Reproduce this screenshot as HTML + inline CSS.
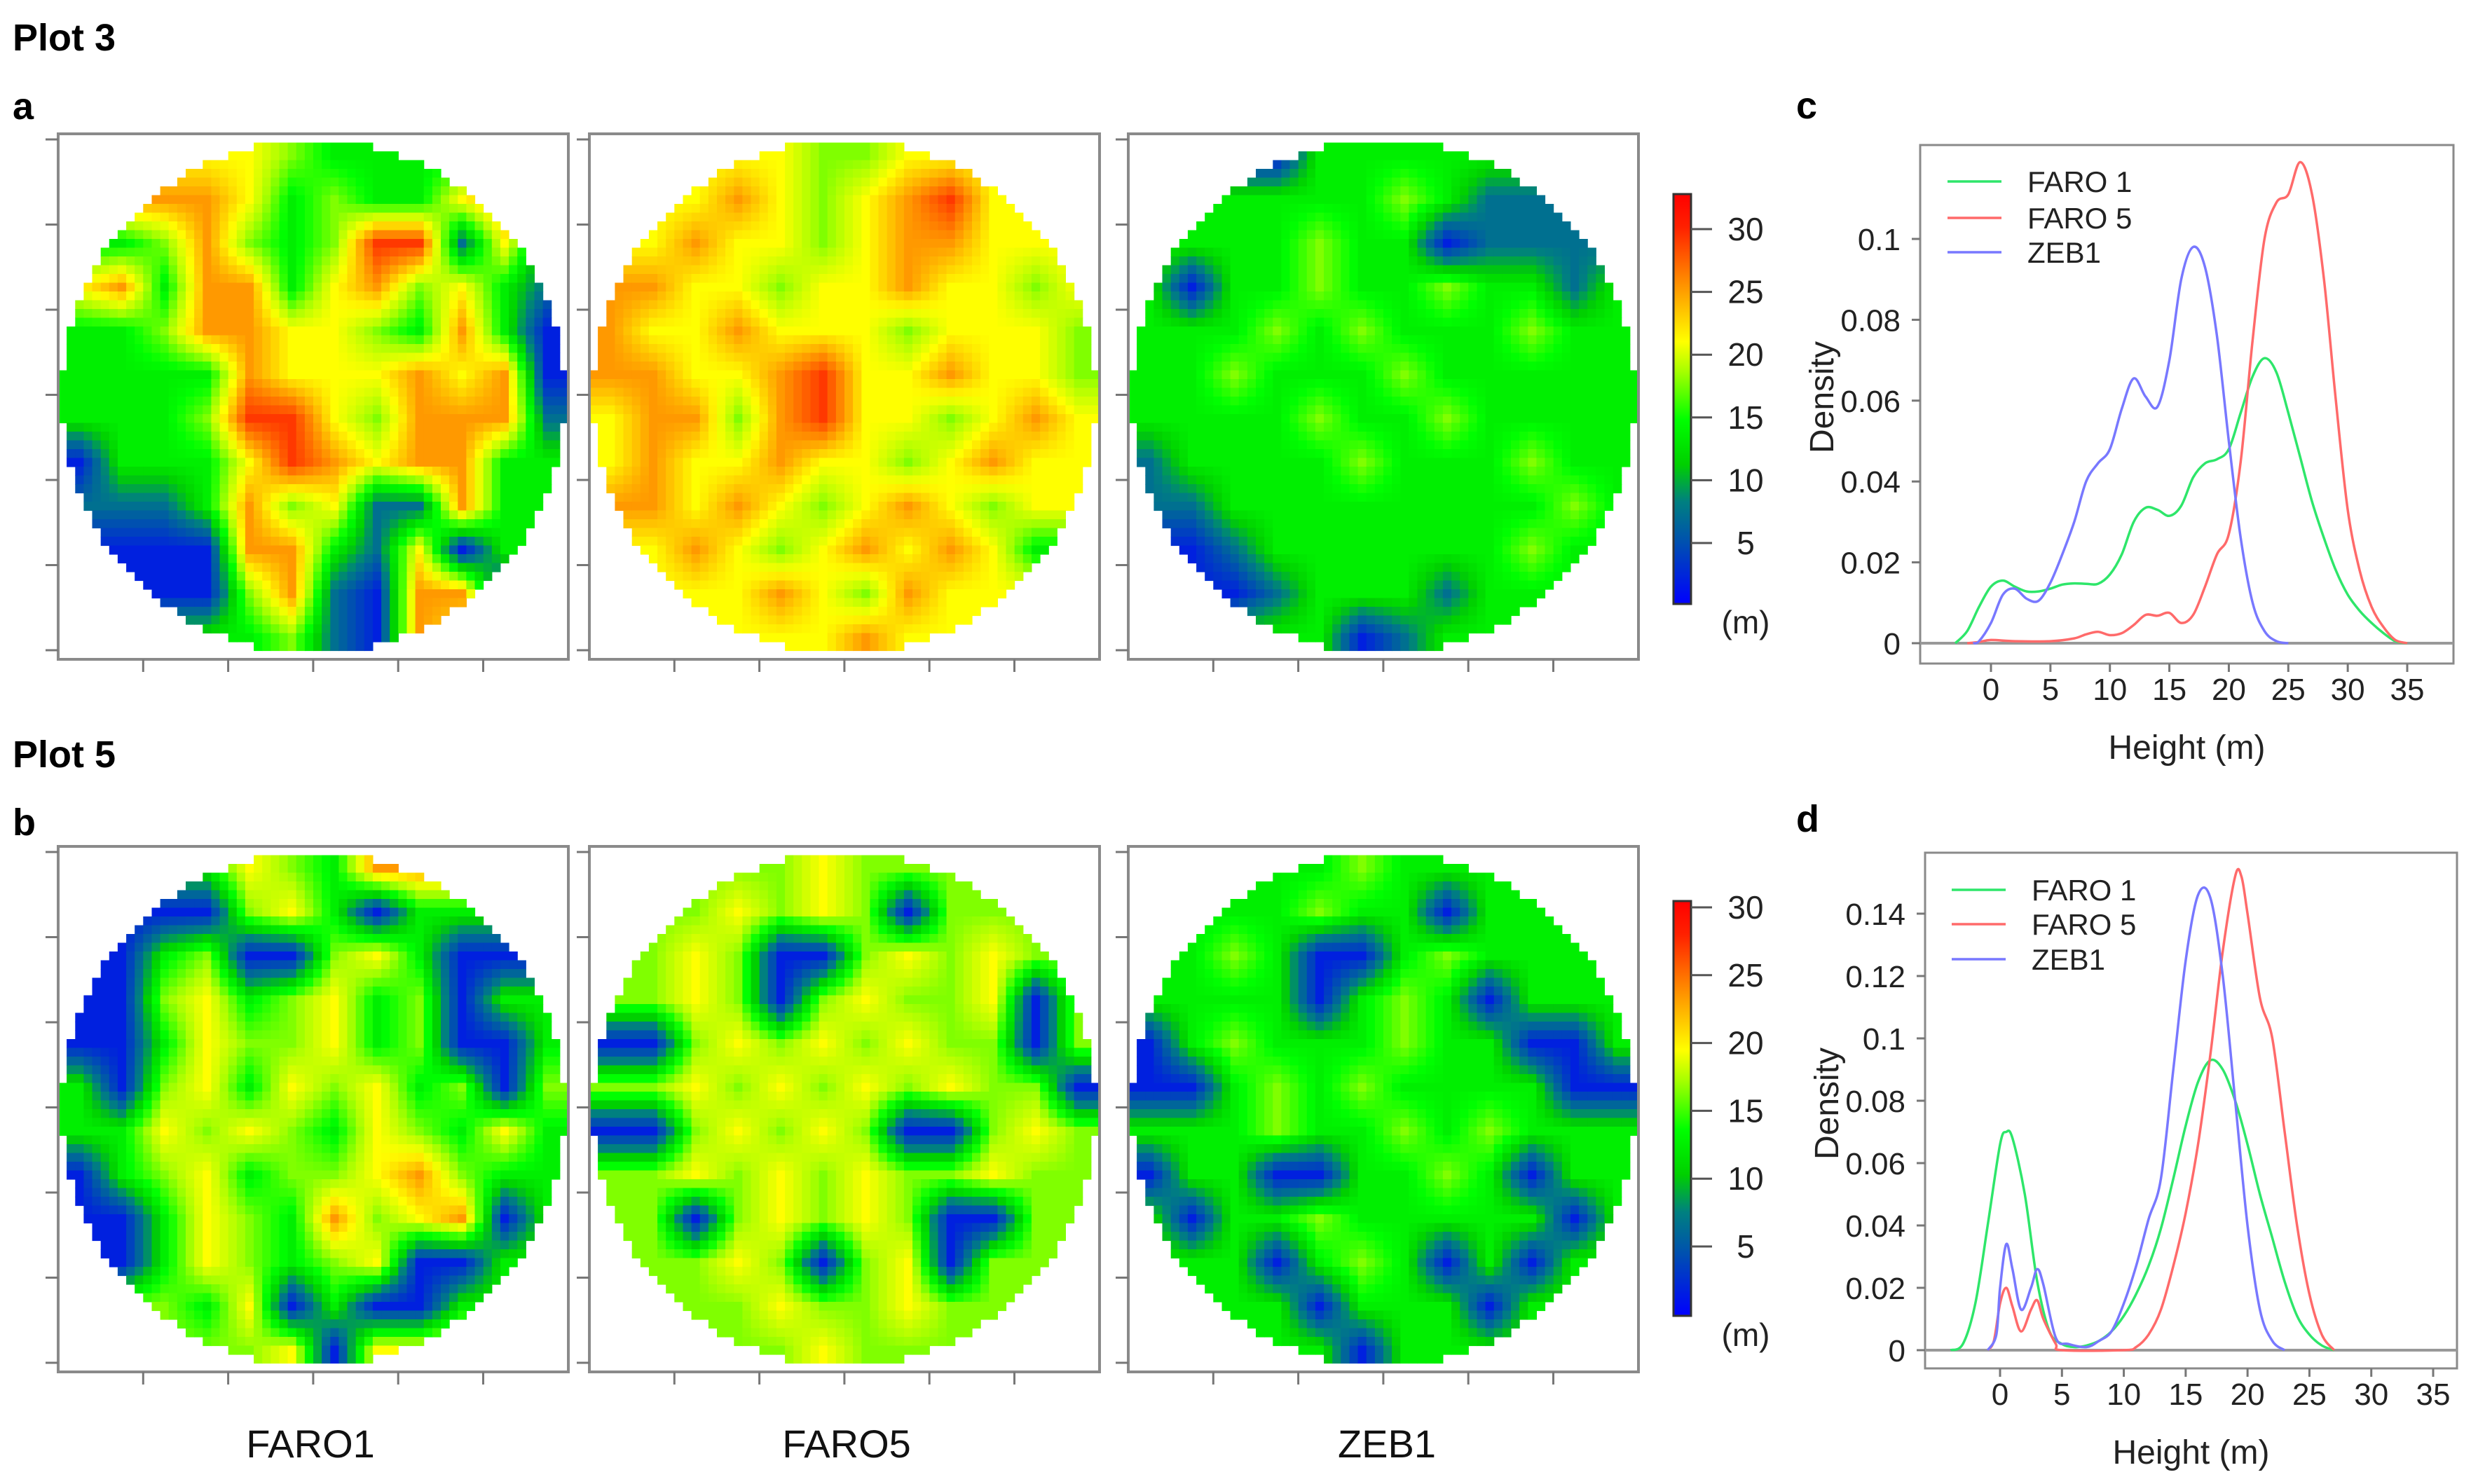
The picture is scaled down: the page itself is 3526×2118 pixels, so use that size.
<!DOCTYPE html>
<html><head><meta charset="utf-8"><style>
html,body{margin:0;padding:0;background:#fff;}
svg{display:block;font-family:"Liberation Sans",Arial,sans-serif;}
</style></head><body>
<svg id="root" width="3526" height="2118" viewBox="0 0 3526 2118" xmlns="http://www.w3.org/2000/svg">
<defs>
<linearGradient id="cbar" x1="0" y1="1" x2="0" y2="0">
<stop offset="0" stop-color="#0000ff"/><stop offset="0.15" stop-color="#0050b0"/><stop offset="0.25" stop-color="#008080"/><stop offset="0.34" stop-color="#00d000"/><stop offset="0.45" stop-color="#00ff00"/><stop offset="0.57" stop-color="#aaff00"/><stop offset="0.64" stop-color="#ffff00"/><stop offset="0.77" stop-color="#ff9900"/><stop offset="0.92" stop-color="#ff2000"/><stop offset="1" stop-color="#ff0000"/>
</linearGradient>
</defs>
<g font-weight="bold" font-size="54" fill="#000">
<text x="18" y="72">Plot 3</text>
<text x="18" y="170">a</text>
<text x="18" y="1095">Plot 5</text>
<text x="18" y="1192">b</text>
<text x="2563" y="169">c</text>
<text x="2563" y="1187">d</text>
</g>
<g font-size="56" fill="#111" text-anchor="middle">
<text x="443" y="2080">FARO1</text>
<text x="1208" y="2080">FARO5</text>
<text x="1979" y="2080">ZEB1</text>
</g>
<g id="maps"></g>
<g id="cbars"></g>
<g id="charts"></g>
</svg>
<script>
// ---------- heatmap data (coarse height grids, codes: B=2 T=7 G=13 L=17 Y=21 O=25 R=29) ----------
const codeValues = {B:2,T:7,G:13,L:17,Y:21,O:25,R:29};
const gridA1 = ["....YLGG....","..OOYGLGGYO.",".GLOLGLRRTYT","YOGOOGYOLYGT","GGLOOYYLGOGB","GGGGOYYYOYOB","GGGLRRYLOOOT","BGGGYROYOOGG","TTTGOLYTTOGG",".BBBOOGTYBG.","..BBLOTBOOB.","....GLTBOY.."];
const gridA2 = ["...YYLLYY...","..YOYLYORY..",".YOYYLYOOYY.","OOYYLYYOYYLY","OYYOYYYLYYYL","OOYYORYYOYYL","YOOLORYYLYOY","YOYYOYYLYOYY",".OYOYLYOYLY.",".YOYLYOYOYG.","..YYOYLOYY..","....YYOY...."];
const gridA3 = ["...BGGGG....","..GGGGLGTT..",".GGGLGGBTTT.","GBGGLGGLGGTG","GGGLGLGGGLGG","GGLGGGLGGGGG","GGGGLGGLGGGG","TGGGGLGGGLGG","TTGGGGGGGGLG",".BTGGGGGGLG.","..BTGGGTGG..","....GBTG...."];
const gridB1 = ["...GYLGO....","..BBLYGBG...",".BGLBBLYGBB.","BBLYGLYGLBGG","BBGYLLYGLBBG","GBLYGYLYGLBL","GGYLYLGYLGYG","BGLYGLLYOLGG","BBGYLGOLYOBG",".BGYLGLYBBG.","..LGYBGBBG..","....LYBY...."];
const gridB2 = ["...LLYLL....","..LYLYLBLL..",".LYLBBLYLYL.","LLYLBLYLLYBL","BBLYLYLYLLBL","LLYLYLYLYLLB","BBLYLYLBBLYL","LLYLYLYLLYLL",".LBLYLYLBBL.",".LLYLBLYBLL.","..LLYLLYLL..","....LYLL...."];
const gridB3 = ["...GGLGG....","..GGLGGBGG..",".GLGBBGLGGG.","GGGGBGLGBGGG","BGLGGGLGGBBG","BBGLGLGGGGBB","GGGLGGLGLGGG","BGGBBGGLGBGG","GBGGLGGGGGBG",".GGBGLGBGBG.","..GGBGGGBG..","....GBGG...."];
const mapGrids = [gridA1,gridA2,gridA3,gridB1,gridB2,gridB3];
const mapNames = ["plot3-faro1-map","plot3-faro5-map","plot3-zeb1-map","plot5-faro1-map","plot5-faro5-map","plot5-zeb1-map"];
const cbarTicks = [30,25,20,15,10,5];

// ---------- density data ----------
const cX_faro1=[-3,-2,-1,0,1,2,3,4,5,6,7,8,9,10,11,12,13,14,15,16,17,18,19,20,21,22,23,24,25,26,27,28,29,30,31,32,33,34,35];
const cY_faro1=[0,0.003,0.009,0.014,0.0155,0.014,0.0128,0.0128,0.0135,0.0145,0.0148,0.0147,0.0147,0.017,0.022,0.03,0.0335,0.033,0.0315,0.034,0.041,0.0445,0.0455,0.048,0.057,0.066,0.0705,0.067,0.057,0.046,0.035,0.026,0.018,0.012,0.008,0.005,0.0025,0.0005,0];
const cX_faro5=[-2,-1,0,2,5,7,8,9,10,11,12,13,14,15,16,17,18,19,20,21,22,23,24,25,26,27,28,29,30,31,32,33,34,35];
const cY_faro5=[0,0.0003,0.0008,0.0005,0.0005,0.0012,0.0022,0.0028,0.002,0.0025,0.0045,0.007,0.0068,0.0075,0.005,0.007,0.014,0.022,0.027,0.045,0.075,0.1,0.109,0.111,0.119,0.111,0.09,0.06,0.033,0.018,0.009,0.004,0.0008,0];
const cX_zeb1=[-1.5,-1,0,1,2,3,4,5,6,7,8,9,10,11,12,13,14,15,16,17,18,19,20,21,22,23,24,25];
const cY_zeb1=[0,0.0005,0.005,0.012,0.0135,0.011,0.0105,0.015,0.022,0.03,0.04,0.0445,0.048,0.058,0.0655,0.061,0.0585,0.07,0.09,0.098,0.093,0.076,0.05,0.026,0.01,0.003,0.0005,0];
const dX_faro1=[-4,-3,-2,-1,0,0.5,1,2,3,4,5,6,7,8,9,10,11,12,13,14,15,16,17,18,19,20,21,22,23,24,25,26,27];
const dY_faro1=[0,0.002,0.015,0.04,0.066,0.07,0.068,0.05,0.022,0.006,0.002,0.001,0.0015,0.003,0.006,0.011,0.018,0.027,0.039,0.055,0.072,0.086,0.093,0.09,0.08,0.066,0.05,0.036,0.022,0.011,0.005,0.0015,0];
const dX_faro5=[-1,-0.5,0,0.5,1,1.7,2.5,3,3.5,4.5,5,10,11,12,13,14,15,16,17,18,19,19.5,20,21,22,23,24,25,26,27];
const dY_faro5=[0,0.003,0.015,0.02,0.014,0.006,0.013,0.016,0.01,0.002,0,0,0.001,0.005,0.013,0.027,0.044,0.066,0.095,0.128,0.152,0.152,0.14,0.113,0.1,0.07,0.04,0.018,0.005,0];
const dX_zeb1=[-1,-0.3,0,0.5,1,1.7,2.5,3,3.5,4.5,5.5,7,8,9,10,11,12,13,14,15,16,17,18,19,20,21,22,23];
const dY_zeb1=[0,0.005,0.02,0.034,0.026,0.013,0.02,0.026,0.021,0.004,0.002,0.001,0.003,0.006,0.015,0.027,0.042,0.055,0.09,0.125,0.146,0.145,0.12,0.08,0.04,0.013,0.003,0];
const xTicks=[0,5,10,15,20,25,30,35];
const cYTicks=[0,0.02,0.04,0.06,0.08,0.1];
const cYLabels=["0","0.02","0.04","0.06","0.08","0.1"];
const dYTicks=[0,0.02,0.04,0.06,0.08,0.1,0.12,0.14];
const dYLabels=["0","0.02","0.04","0.06","0.08","0.1","0.12","0.14"];
const seriesNames=["FARO 1","FARO 5","ZEB1"];

const NS="http://www.w3.org/2000/svg";
function mk(tag,attrs,parent){const e=document.createElementNS(NS,tag);for(const k in attrs)e.setAttribute(k,attrs[k]);parent.appendChild(e);return e;}

const stops=[[0,[0,0,255]],[5,[0,80,176]],[8,[0,128,128]],[11,[0,208,0]],[14,[0,255,0]],[18,[170,255,0]],[21,[255,255,0]],[25,[255,153,0]],[30,[255,32,0]],[33,[255,0,0]]];
function cmap(v){
  if(v<=stops[0][0])return "rgb(0,0,255)";
  for(let i=1;i<stops.length;i++){if(v<=stops[i][0]){const a=stops[i-1],b=stops[i];const t=(v-a[0])/(b[0]-a[0]);
    return "rgb("+a[1].map((c,j)=>Math.round(c+(b[1][j]-c)*t)).join(",")+")";}}
  return "rgb(255,0,0)";
}
function gridVals(g){
  return g.map(row=>{const arr=row.split("").map(c=>c==="."?null:codeValues[c]);
    for(let i=0;i<arr.length;i++){if(arr[i]===null){let d=1;while(true){if(i-d>=0&&arr[i-d]!==null){arr[i]=arr[i-d];break;}if(i+d<arr.length&&arr[i+d]!==null){arr[i]=arr[i+d];break;}d++;if(d>12){arr[i]=15;break;}}}}
    return arr;});
}

// ---------- maps ----------
const panelX=[83,841,1610], rowY=[191,1208], PW=728, PH=750;
const maps=document.getElementById("maps");
for(let p=0;p<6;p++){
  const px=panelX[p%3], py=rowY[Math.floor(p/3)];
  const g=mk("g",{},maps);
  
  
  const vals=gridVals(mapGrids[p]);
  const N=60, cw=PW/N, ch=PH/N, cx=px+PW/2, cy=py+PH/2, rx=PW/2-4, ry=PH/2-9;
  for(let r=0;r<N;r++)for(let c=0;c<N;c++){
    const x=px+c*cw+cw/2, y=py+r*ch+ch/2;
    if(((x-cx)/rx)**2+((y-cy)/ry)**2>1)continue;
    const gx=Math.min(Math.max((c+0.5)/N*12-0.5,0),11), gy=Math.min(Math.max((r+0.5)/N*12-0.5,0),11);
    const x0=Math.floor(gx),y0=Math.floor(gy),x1=Math.min(x0+1,11),y1=Math.min(y0+1,11),tx=gx-x0,ty=gy-y0;
    const v=(vals[y0][x0]*(1-tx)+vals[y0][x1]*tx)*(1-ty)+(vals[y1][x0]*(1-tx)+vals[y1][x1]*tx)*ty;
    const cell=mk("rect",{x:(px+c*cw).toFixed(1),y:(py+r*ch).toFixed(1),width:(cw+0.6).toFixed(1),height:(ch+0.6).toFixed(1),fill:cmap(v)},g);
    
    
  }
  const box=mk("rect",{x:px,y:py,width:PW,height:PH,fill:"none",stroke:"#8a8a8a","stroke-width":4},g);
  
  
  for(let i=0;i<7;i++){const ty=py+8+i*121.5;const t=mk("line",{x1:px-18,y1:ty,x2:px,y2:ty,stroke:"#777","stroke-width":3},g);
    
    }
  for(let i=1;i<=5;i++){const tx=px+i*121.3;const t=mk("line",{x1:tx,y1:py+PH,x2:tx,y2:py+PH+18,stroke:"#777","stroke-width":3},g);
    
    }
}

// ---------- colorbars ----------
const cbars=document.getElementById("cbars");
const cbDefs=[{top:277,bot:862,t30:327,t5:775,m:888},{top:1286,bot:1878,t30:1295,t5:1779,m:1905}];
cbDefs.forEach((d,k)=>{
  const g=mk("g",{},cbars);
  
  
  const r=mk("rect",{x:2388,y:d.top,width:25,height:d.bot-d.top,fill:"url(#cbar)",stroke:"#333","stroke-width":3},g);
  
  
  cbarTicks.forEach(v=>{
    const y=d.t5+(v-5)*(d.t30-d.t5)/25;
    const l=mk("line",{x1:2413,y1:y,x2:2443,y2:y,stroke:"#555","stroke-width":3},g);
    
    
    const t=mk("text",{x:2491,y:y+16,"font-size":46,"text-anchor":"middle",fill:"#222"},g);
    t.textContent=String(v);
    
    
  });
  const m=mk("text",{x:2491,y:d.m+16,"font-size":46,"text-anchor":"middle",fill:"#222"},g);
  m.textContent="(m)";
  
  
});

// ---------- density charts ----------
const charts=document.getElementById("charts");
const colors=["#2ee66a","#ff6a6a","#7878ff"];
function smoothPath(P){
  let d="M"+P[0][0].toFixed(1)+","+P[0][1].toFixed(1);
  for(let i=0;i<P.length-1;i++){
    const p0=P[Math.max(i-1,0)],p1=P[i],p2=P[i+1],p3=P[Math.min(i+2,P.length-1)];
    const c1=[p1[0]+(p2[0]-p0[0])/6,p1[1]+(p2[1]-p0[1])/6],c2=[p2[0]-(p3[0]-p1[0])/6,p2[1]-(p3[1]-p1[1])/6];
    d+=" C"+c1[0].toFixed(1)+","+c1[1].toFixed(1)+" "+c2[0].toFixed(1)+","+c2[1].toFixed(1)+" "+p2[0].toFixed(1)+","+p2[1].toFixed(1);
  }
  return d;
}
function chart(name,box,x0px,x35px,y0px,yTop,yTopVal,yt,yl,series,legendY,legX){
  const g=mk("g",{},charts);
  
  
  const sx=v=>x0px+(x35px-x0px)*v/35, sy=v=>y0px-(y0px-yTop)*v/yTopVal;
  const fr=mk("rect",{x:box[0],y:box[1],width:box[2]-box[0],height:box[3]-box[1],fill:"none",stroke:"#8a8a8a","stroke-width":3},g);
  
  
  const zl=mk("line",{x1:box[0],y1:sy(0),x2:box[2],y2:sy(0),stroke:"#999","stroke-width":4},g);
  
  
  yt.forEach((v,i)=>{
    const y=sy(v);
    const l=mk("line",{x1:box[0]-12,y1:y,x2:box[0],y2:y,stroke:"#777","stroke-width":3},g);
    
    
    const t=mk("text",{x:box[0]-28,y:y+16,"font-size":44,"text-anchor":"end",fill:"#222"},g);
    t.textContent=yl[i];
    
    
  });
  xTicks.forEach(v=>{
    const x=sx(v);
    const l=mk("line",{x1:x,y1:box[3],x2:x,y2:box[3]+12,stroke:"#777","stroke-width":3},g);
    
    
    const t=mk("text",{x:x,y:box[3]+52,"font-size":44,"text-anchor":"middle",fill:"#222"},g);
    t.textContent=String(v);
    
    
  });
  const xt=mk("text",{x:(box[0]+box[2])/2,y:box[3]+136,"font-size":48,"text-anchor":"middle",fill:"#222"},g);
  xt.textContent="Height (m)";
  
  
  const ycy=(box[1]+box[3])/2-10;
  const ytt=mk("text",{x:box[0]-124,y:ycy,"font-size":48,"text-anchor":"middle",fill:"#222",transform:"rotate(-90 "+(box[0]-124)+" "+ycy+")"},g);
  ytt.textContent="Density";
  
  
  series.forEach((s,i)=>{
    const P=s[0].map((xv,j)=>[sx(xv),sy(s[1][j])]);
    const pl=mk("path",{d:smoothPath(P),fill:"none",stroke:colors[i],"stroke-width":3.5,"stroke-linejoin":"round"},g);
    
    
    const ly=legendY[i];
    const ll=mk("line",{x1:legX,y1:ly,x2:legX+77,y2:ly,stroke:colors[i],"stroke-width":3.5},g);
    
    
    const lt=mk("text",{x:legX+114,y:ly+15,"font-size":42,fill:"#222"},g);
    lt.textContent=seriesNames[i];
    
    
  });
}
chart("density-chart-plot3",[2740,207,3501,947],2841,3435,918,341,0.1,cYTicks,cYLabels,
  [[cX_faro1,cY_faro1],[cX_faro5,cY_faro5],[cX_zeb1,cY_zeb1]],[259,311,360],2779);
chart("density-chart-plot5",[2747,1217,3506,1953],2854,3472,1927,1304,0.14,dYTicks,dYLabels,
  [[dX_faro1,dY_faro1],[dX_faro5,dY_faro5],[dX_zeb1,dY_zeb1]],[1270,1319,1369],2785);
</script>
</body></html>
